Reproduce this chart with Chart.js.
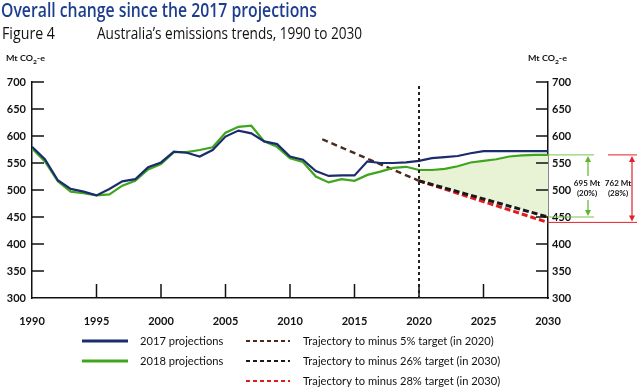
<!DOCTYPE html>
<html>
<head>
<meta charset="utf-8">
<script src="https://cdn.jsdelivr.net/npm/chart.js"></script>
<style>
  body { margin: 0; background: #fff; }
  #page { position: relative; width: 637px; height: 387px; overflow: hidden; font-family: "Open Sans", Lato, sans-serif; }
  #wrap { position: absolute; left: 0; top: 0; width: 637px; height: 387px; }
  .t { position: absolute; white-space: nowrap; line-height: 1; transform-origin: 0 0; }
  #title { left: 1px; top: 1px; font-size: 19px; font-weight: 600; color: #1d3d8f; }
  #fig { left: 2px; top: 25px; font-size: 16px; font-weight: 500; color: #111; }
  #sub { left: 97px; top: 25px; font-size: 16px; font-weight: 500; color: #111; }
  .unit { top: 54px; font-size: 8px; font-weight: bold; color: #111; font-family: Lato, sans-serif; }
  .unit sub { font-size: 6px; }
</style>
</head>
<body>
<div id="page">
  <div id="wrap"><canvas id="myChart" width="637" height="387"></canvas></div>
  <div class="t" id="title" data-w="316">Overall change since the 2017 projections</div>
  <div class="t" id="fig" data-w="53">Figure 4</div>
  <div class="t" id="sub" data-w="265">Australia’s emissions trends, 1990 to 2030</div>
  <div class="t unit" style="left:6px" data-w="39">Mt CO<sub>2</sub>-e</div>
  <div class="t unit" style="left:528px" data-w="39">Mt CO<sub>2</sub>-e</div>
</div>
<script>
const years = [1990, 1991, 1992, 1993, 1994, 1995, 1996, 1997, 1998, 1999,
  2000, 2001, 2002, 2003, 2004, 2005, 2006, 2007, 2008, 2009,
  2010, 2011, 2012, 2013, 2014, 2015, 2016, 2017, 2018, 2019,
  2020, 2021, 2022, 2023, 2024, 2025, 2026, 2027, 2028, 2029, 2030];
const proj2017 = [580, 557, 518, 502, 497, 490, 502, 516, 520, 542,
  551, 571, 569, 562, 574, 599, 610, 605, 590, 585,
  562, 556, 535, 526, 527, 527, 553, 550, 550, 551,
  554, 559, 561, 563, 568, 572, 572, 572, 572, 572, 572];
const proj2018 = [577, 553, 516, 497, 494, 490, 492, 508, 517, 538,
  548, 570, 570, 574, 579, 606, 617, 619, 590, 580,
  559, 552, 525, 514, 520, 517, 528, 534, 541, 543,
  537, 537, 539, 544, 551, 554, 557, 562, 564, 565, 565];
const traj5Years = [2012.5, 2020];
const traj5 = [594, 517];
const traj26Years = [2020, 2030];
const traj26 = [517, 450];
const traj28Years = [2020, 2030];
const traj28 = [517, 440];
const xTicks = [1990, 1995, 2000, 2005, 2010, 2015, 2020, 2025, 2030];
const yTicks = [300, 350, 400, 450, 500, 550, 600, 650, 700];
const markerYear = 2020;
const gap26Text = ['695 Mt', '(20%)'];
const gap28Text = ['762 Mt', '(28%)'];

// squeeze the html texts to the widths of the original
document.querySelectorAll('.t').forEach(el => {
  const w = el.getBoundingClientRect().width;
  el.style.transform = 'scaleX(' + (Number(el.dataset.w) / w) + ')';
});

const pts = (xs, ys) => xs.map((x, i) => ({ x: x, y: ys[i] }));
const fillFrom = years.indexOf(markerYear);
const FONT = 'Lato, "Open Sans", sans-serif';

Chart.defaults.font.family = FONT;
Chart.defaults.color = '#111';

// inward ticks, 2020 marker, gap brackets and legend
const extras = {
  id: 'extras',
  afterDraw(chart) {
    const c = chart.ctx;
    const x = chart.scales.x, y = chart.scales.y;
    const a = chart.chartArea;
    c.save();
    c.strokeStyle = '#111';
    c.lineWidth = 1.5;
    yTicks.forEach(v => {
      if (v === yTicks[0]) return;
      const py = y.getPixelForValue(v);
      c.beginPath(); c.moveTo(a.left, py); c.lineTo(a.left + 12, py); c.stroke();
      c.beginPath(); c.moveTo(a.right, py); c.lineTo(a.right - 12, py); c.stroke();
    });
    xTicks.forEach(v => {
      if (v === xTicks[0] || v === xTicks[xTicks.length - 1]) return;
      const px = x.getPixelForValue(v);
      c.beginPath(); c.moveTo(px, a.bottom); c.lineTo(px, a.bottom - 14); c.stroke();
    });

    // 2020 dotted line
    const mx = x.getPixelForValue(markerYear);
    c.setLineDash([3, 3]);
    c.lineWidth = 2;
    c.strokeStyle = '#222';
    c.beginPath(); c.moveTo(mx, a.top + 4); c.lineTo(mx, a.bottom); c.stroke();
    c.setLineDash([]);

    // brackets on the right
    const top = y.getPixelForValue(proj2018[proj2018.length - 1]);
    const g = y.getPixelForValue(traj26[traj26.length - 1]);
    const r = y.getPixelForValue(traj28[traj28.length - 1]);
    c.lineWidth = 1;
    c.strokeStyle = '#7cc44a';
    c.beginPath(); c.moveTo(a.right, top); c.lineTo(a.right + 46, top); c.stroke();
    c.beginPath(); c.moveTo(a.right, g); c.lineTo(a.right + 46, g); c.stroke();
    c.strokeStyle = '#e3202c';
    c.beginPath(); c.moveTo(a.right + 60, top); c.lineTo(637, top); c.stroke();
    c.beginPath(); c.moveTo(a.right, r); c.lineTo(637, r); c.stroke();

    const arrow = (px, y1, y2, col, gapTop, gapBot) => {
      c.strokeStyle = col; c.fillStyle = col; c.lineWidth = 1.2;
      if (gapTop !== undefined) {
        c.beginPath(); c.moveTo(px, y1 + 4); c.lineTo(px, gapTop); c.stroke();
        c.beginPath(); c.moveTo(px, gapBot); c.lineTo(px, y2 - 4); c.stroke();
      } else {
        c.beginPath(); c.moveTo(px, y1 + 4); c.lineTo(px, y2 - 4); c.stroke();
      }
      c.beginPath(); c.moveTo(px, y1 + 1); c.lineTo(px - 3, y1 + 7); c.lineTo(px + 3, y1 + 7); c.fill();
      c.beginPath(); c.moveTo(px, y2 - 1); c.lineTo(px - 3, y2 - 7); c.lineTo(px + 3, y2 - 7); c.fill();
    };
    const midG = (top + g) / 2;
    arrow(a.right + 40, top, g, '#5bb82a', midG - 10, midG + 14);
    arrow(a.right + 84, top, r, '#e3202c');

    c.fillStyle = '#111';
    c.font = 'bold 8px ' + FONT;
    c.textAlign = 'center';
    c.textBaseline = 'middle';
    c.fillText(gap26Text[0], a.right + 39, midG - 3);
    c.fillText(gap26Text[1], a.right + 39, midG + 7);
    c.fillText(gap28Text[0], a.right + 70, midG - 3);
    c.fillText(gap28Text[1], a.right + 70, midG + 7);

    // legend
    const cols = [82, 246], rows = [341, 361, 381];
    const slots = [[0, 0], [0, 1], [1, 0], [1, 1], [1, 2]];
    c.textAlign = 'left';
    c.font = '12px ' + FONT;
    chart.data.datasets.forEach((ds, i) => {
      if (!ds.label) return;
      const s = slots[i];
      const lx = cols[s[0]], ly = rows[s[1]];
      c.strokeStyle = ds.borderColor;
      c.lineWidth = ds.borderDash ? 2.2 : 2.8;
      c.setLineDash(ds.borderDash ? [4, 3] : []);
      c.beginPath(); c.moveTo(lx, ly); c.lineTo(lx + (s[0] ? 44 : 46), ly); c.stroke();
      c.setLineDash([]);
      c.fillStyle = '#111';
      c.save();
      c.translate(lx + (s[0] ? 57 : 58), ly);
      c.scale(0.93, 1);
      c.fillText(ds.label, 0, 0);
      c.restore();
    });
    c.restore();
  }
};

new Chart(document.getElementById('myChart'), {
  type: 'line',
  data: {
    datasets: [
      { label: '2017 projections', data: pts(years, proj2017), borderColor: '#1b2c6e', borderWidth: 2.2 },
      { label: '2018 projections', data: pts(years, proj2018), borderColor: '#3ea51c', borderWidth: 2.2 },
      { label: 'Trajectory to minus 5% target (in 2020)', data: pts(traj5Years, traj5), borderColor: '#4a2a1a', borderWidth: 2.4, borderDash: [6, 4] },
      { label: 'Trajectory to minus 26% target (in 2030)', data: pts(traj26Years, traj26), borderColor: '#1a1a1a', borderWidth: 3, borderDash: [6, 3] },
      { label: 'Trajectory to minus 28% target (in 2030)', data: pts(traj28Years, traj28), borderColor: '#e11b1b', borderWidth: 3, borderDash: [6, 3], order: 1 },
      { label: '', data: pts(years.slice(fillFrom), proj2018.slice(fillFrom)), borderWidth: 0, borderColor: 'rgba(0,0,0,0)', backgroundColor: '#e8f3d5', fill: 3, order: 5 }
    ]
  },
  options: {
    responsive: false,
    animation: false,
    events: [],
    elements: { point: { radius: 0 }, line: { tension: 0 } },
    layout: { padding: { top: 82, left: 0, right: 0, bottom: 0 } },
    plugins: { legend: { display: false }, tooltip: { enabled: false } },
    scales: {
      x: {
        type: 'linear', min: 1990, max: 2030,
        afterBuildTicks: s => { s.ticks = xTicks.map(v => ({ value: v })); },
        afterFit: s => { s.height = 89; },
        grid: { display: false, drawTicks: false },
        border: { display: true, color: '#111', width: 1.5 },
        ticks: { padding: 17, font: { size: 11, weight: 'bold' }, callback: v => String(v), maxRotation: 0 }
      },
      y: {
        min: 300, max: 700, position: 'left',
        afterBuildTicks: s => { s.ticks = yTicks.map(v => ({ value: v })); },
        afterFit: s => { s.width = 32; },
        grid: { display: false, drawTicks: false },
        border: { display: true, color: '#111', width: 1.5 },
        ticks: { padding: 6, font: { size: 11, weight: 'bold' } }
      },
      y2: {
        min: 300, max: 700, position: 'right',
        afterBuildTicks: s => { s.ticks = yTicks.map(v => ({ value: v })); },
        afterFit: s => { s.width = 89; },
        grid: { display: false, drawTicks: false },
        border: { display: true, color: '#111', width: 1.5 },
        ticks: { padding: 4, font: { size: 11, weight: 'bold' } }
      }
    }
  },
  plugins: [extras]
});
</script>
</body>
</html>
